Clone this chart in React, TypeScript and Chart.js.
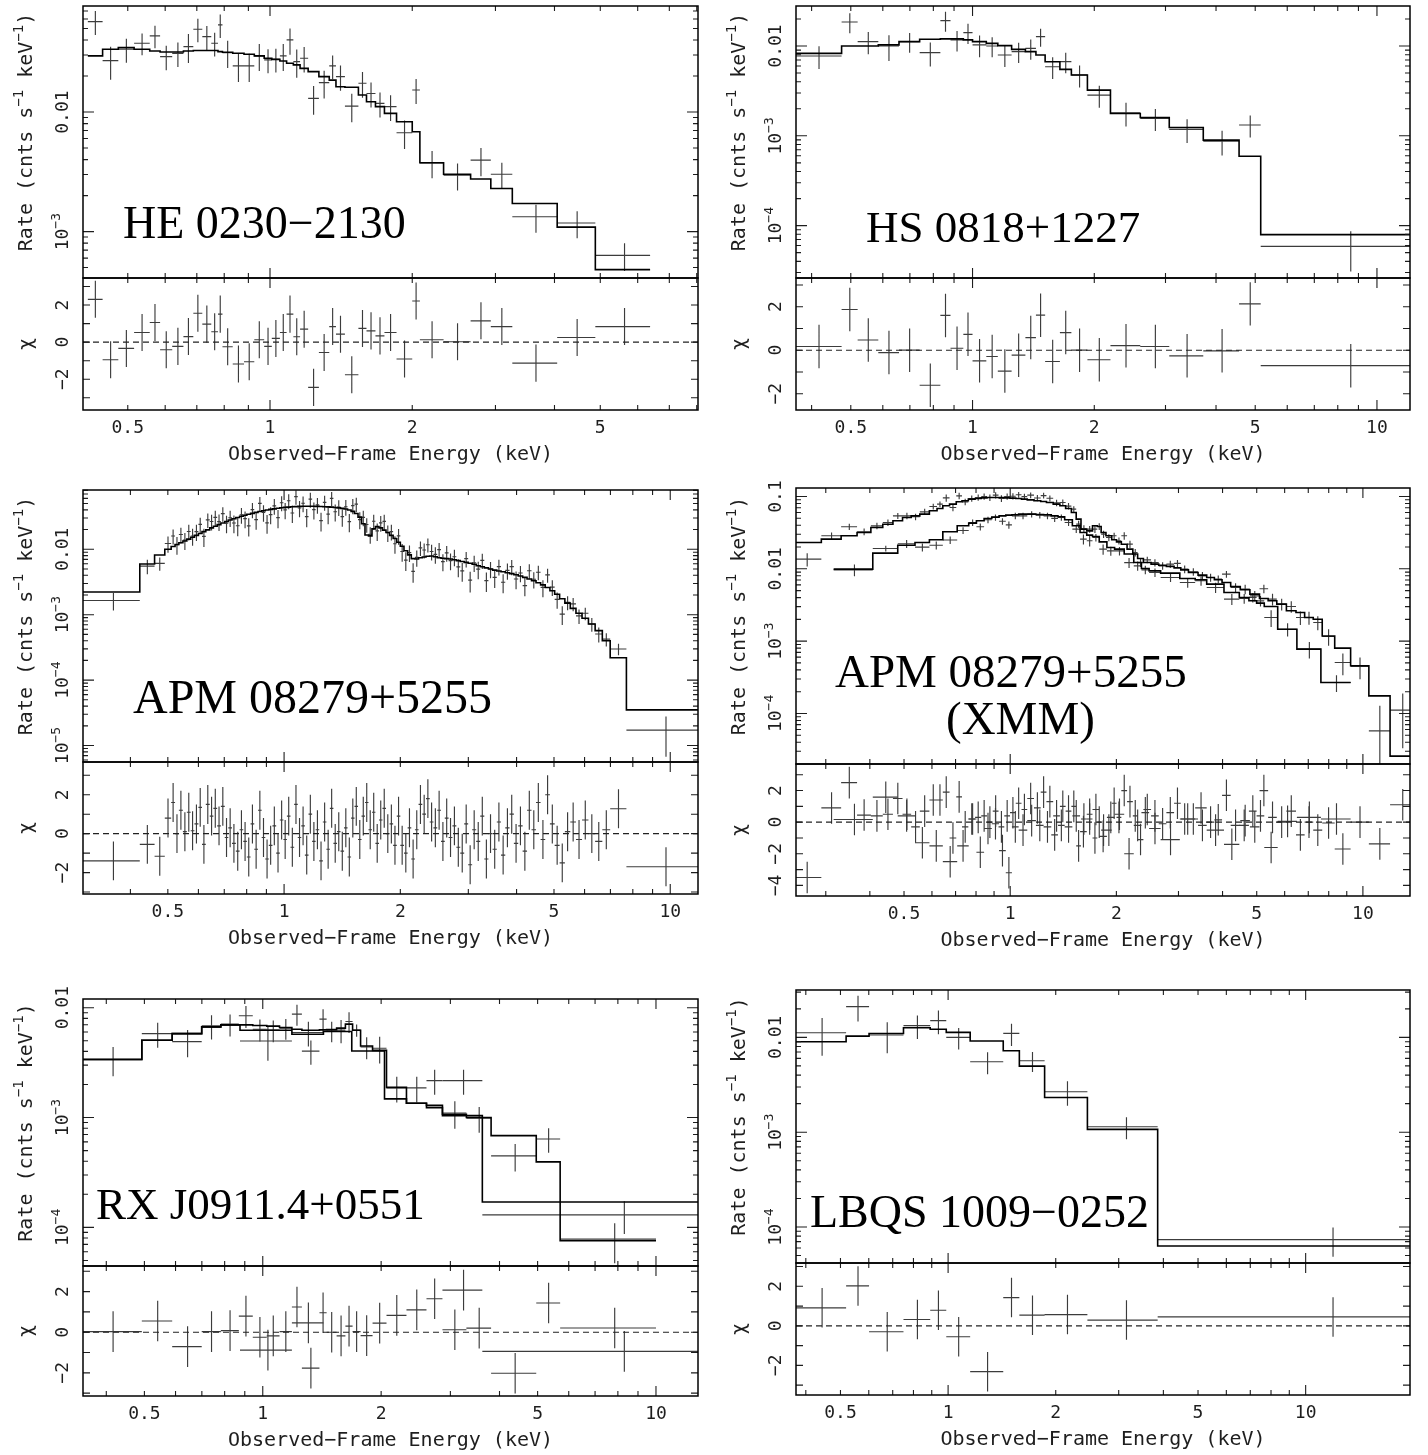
import React, { useEffect, useRef } from "react";
import { Chart, registerables } from "chart.js";

Chart.register(...registerables);

/* ================= DATA ================= */
/* rates in cnts s^-1 keV^-1 ; *Milli arrays are in units of 10^-3 */

/* ---- HE 0230-2130 (top left) ---- */
const heEdges = [0.4116, 0.4423, 0.4775, 0.5157, 0.5565, 0.5853, 0.6209, 0.6558, 0.6882, 0.719, 0.7511, 0.7761, 0.7932, 0.8339, 0.881, 0.9263, 0.972, 1.0088, 1.0493, 1.0842, 1.1205, 1.1578, 1.2043, 1.269, 1.3347, 1.3791, 1.4407, 1.5385, 1.6003, 1.6718, 1.7466, 1.8526, 2.0, 2.0758, 2.33, 2.658, 2.933, 3.257, 4.053, 4.881, 6.374];
const heRateMilli = [57.1, 26.9, 33.5, 37.6, 43.4, 29.1, 31.0, 35.3, 49.3, 42.8, 37.6, 53.6, 31.4, 24.3, 24.3, 29.5, 27.3, 27.6, 29.5, 40.1, 26.4, 28.2, 13.0, 17.6, 24.3, 19.8, 11.2, 17.4, 14.3, 11.8, 11.1, 6.71, 15.3, 3.76, 2.96, 3.96, 3.02, 1.33, 1.18, 0.633];
const heErrMilli = [13, 8.3, 7.6, 7.8, 9.2, 6.7, 7.2, 9.6, 11, 9.7, 8.5, 12, 8, 6.5, 6.5, 7.5, 6.2, 6.2, 7.5, 10, 7, 6.8, 3.5, 4.6, 5.4, 4.7, 3.0, 4.2, 3.4, 2.8, 2.7, 1.8, 3.6, 0.96, 0.75, 1.05, 0.75, 0.35, 0.3, 0.165];
const heModelMilli = [29.5, 33.5, 34.6, 33.5, 32.4, 31.8, 31.8, 32.4, 32.7, 32.7, 32.7, 32.0, 31.6, 31.0, 30.4, 29.5, 28.2, 27.6, 26.7, 25.6, 24.8, 23.2, 21.8, 19.8, 18.5, 16.3, 16.1, 13.9, 12.2, 11.1, 9.74, 8.3, 6.84, 3.76, 3.02, 2.75, 2.29, 1.72, 1.09, 0.481];
const heChi = [2.31, -0.95, -0.34, 0.52, 1.06, -0.41, -0.23, 0.3, 1.56, 0.97, 0.56, 1.51, -0.25, -1.18, -1.06, 0.13, -0.23, 0.2, 0.52, 1.51, 0.29, 0.7, -2.44, -0.56, 0.84, 0.43, -1.76, 0.74, 0.61, 0.34, 0.52, -0.91, 2.22, 0.13, 0.02, 1.15, 0.84, -1.13, 0.25, 0.84];

/* ---- HS 0818+1227 (top right) ---- */
const hsEdges = [0.36, 0.4745, 0.5199, 0.5848, 0.6579, 0.74, 0.8326, 0.8821, 0.949, 1.0, 1.0816, 1.1548, 1.2492, 1.3512, 1.4347, 1.5118, 1.6444, 1.7555, 1.9233, 2.193, 2.599, 3.065, 3.72, 4.561, 5.159, 12.07];
const hsRateMilli = [7.74, 18.5, 11.2, 10.0, 11.2, 8.43, 19.2, 11.7, 14.1, 10.3, 10.0, 7.94, 8.65, 9.42, 12.7, 5.88, 6.69, 4.75, 2.84, 1.8, 1.56, 1.18, 0.872, 1.32, 0.0588];
const hsErrMilli = [2.2, 4.6, 3.1, 3.2, 2.8, 2.5, 4.8, 3.0, 3.6, 2.8, 2.5, 2.1, 2.2, 2.4, 2.9, 1.6, 1.7, 1.3, 0.78, 0.53, 0.43, 0.35, 0.27, 0.36, 0.028];
const hsModelMilli = [8.28, 10.0, 10.0, 10.3, 11.2, 11.9, 12.0, 12.0, 11.7, 11.2, 10.7, 10.1, 9.18, 8.65, 7.94, 6.69, 5.49, 4.75, 3.23, 1.77, 1.6, 1.24, 0.895, 0.593, 0.0794];
const hsChi = [0.17, 1.87, 0.47, -0.11, 0.0, -1.61, 1.6, 0.09, 0.73, -0.49, -0.29, -0.96, -0.23, 0.58, 1.61, -0.52, 0.81, 0.0, -0.44, 0.21, 0.17, -0.26, -0.03, 2.13, -0.71];

/* ---- APM 08279+5255 Chandra (middle left) ---- */
const apmEdges = [0.3, 0.423, 0.462, 0.491, 0.51, 0.522, 0.534, 0.547, 0.56, 0.573, 0.586, 0.6, 0.613, 0.627, 0.642, 0.656, 0.671, 0.686, 0.702, 0.717, 0.733, 0.75, 0.767, 0.784, 0.801, 0.819, 0.837, 0.856, 0.875, 0.894, 0.913, 0.933, 0.954, 0.975, 0.996, 1.017, 1.039, 1.062, 1.085, 1.108, 1.132, 1.157, 1.182, 1.207, 1.233, 1.26, 1.287, 1.314, 1.342, 1.371, 1.4, 1.43, 1.46, 1.491, 1.522, 1.554, 1.587, 1.62, 1.654, 1.689, 1.724, 1.761, 1.798, 1.836, 1.876, 1.916, 1.958, 2.0, 2.044, 2.089, 2.135, 2.182, 2.23, 2.28, 2.331, 2.383, 2.437, 2.492, 2.549, 2.607, 2.667, 2.729, 2.793, 2.859, 2.927, 2.997, 3.069, 3.144, 3.221, 3.3, 3.382, 3.467, 3.555, 3.645, 3.739, 3.836, 3.936, 4.04, 4.147, 4.258, 4.373, 4.492, 4.616, 4.745, 4.88, 5.02, 5.17, 5.335, 5.51, 5.7, 5.91, 6.14, 6.39, 6.67, 6.99, 7.7, 11.8];
const apmRate = [0.00165, 0.00553, 0.00608, 0.01224, 0.01593, 0.0118, 0.01683, 0.01378, 0.0187, 0.01594, 0.01858, 0.02398, 0.01574, 0.02812, 0.02654, 0.03069, 0.02647, 0.03508, 0.02511, 0.03035, 0.0252, 0.02289, 0.03369, 0.02939, 0.02278, 0.04036, 0.0284, 0.05037, 0.03663, 0.02531, 0.03386, 0.04615, 0.03046, 0.05143, 0.03994, 0.05521, 0.03586, 0.06376, 0.04267, 0.05048, 0.03149, 0.05824, 0.04032, 0.04773, 0.02736, 0.05221, 0.03445, 0.06002, 0.03741, 0.0441, 0.03157, 0.04466, 0.02643, 0.04651, 0.049, 0.0284, 0.03067, 0.02389, 0.0169, 0.02681, 0.01909, 0.02536, 0.02673, 0.018, 0.01858, 0.01215, 0.01603, 0.00924, 0.00684, 0.00889, 0.00458, 0.0075, 0.01051, 0.00973, 0.01173, 0.00923, 0.00835, 0.00989, 0.00648, 0.00881, 0.0067, 0.00767, 0.00539, 0.00468, 0.00718, 0.00337, 0.00623, 0.00497, 0.00676, 0.00331, 0.005, 0.00372, 0.00544, 0.00313, 0.00475, 0.00543, 0.00351, 0.00434, 0.00278, 0.0047, 0.00348, 0.00446, 0.00261, 0.00406, 0.00264, 0.00171, 0.00102, 0.00154, 0.00146, 0.00096, 0.00105, 0.00072, 0.000506, 0.000422, 0.000299, 0.0000172];
const apmErrFrac = [0.3, 0.25, 0.23, 0.28, 0.26, 0.3, 0.27, 0.29, 0.27, 0.29, 0.28, 0.26, 0.31, 0.25, 0.27, 0.26, 0.28, 0.25, 0.3, 0.28, 0.3, 0.31, 0.27, 0.29, 0.31, 0.26, 0.3, 0.25, 0.28, 0.32, 0.29, 0.27, 0.31, 0.26, 0.28, 0.26, 0.3, 0.25, 0.28, 0.27, 0.31, 0.26, 0.29, 0.27, 0.32, 0.26, 0.3, 0.25, 0.29, 0.27, 0.3, 0.27, 0.31, 0.26, 0.25, 0.29, 0.27, 0.25, 0.28, 0.26, 0.3, 0.27, 0.26, 0.28, 0.27, 0.3, 0.27, 0.3, 0.32, 0.28, 0.33, 0.28, 0.25, 0.26, 0.24, 0.27, 0.28, 0.26, 0.29, 0.27, 0.29, 0.28, 0.31, 0.32, 0.27, 0.35, 0.28, 0.3, 0.26, 0.33, 0.28, 0.31, 0.27, 0.32, 0.28, 0.26, 0.3, 0.28, 0.31, 0.26, 0.28, 0.25, 0.29, 0.24, 0.27, 0.28, 0.32, 0.24, 0.23, 0.25, 0.22, 0.24, 0.26, 0.23, 0.2, 0.61];
const apmModel = [0.00222, 0.00594, 0.00818, 0.01, 0.011, 0.0118, 0.0126, 0.0134, 0.0143, 0.0153, 0.0163, 0.0174, 0.0186, 0.0198, 0.0212, 0.0225, 0.0238, 0.0252, 0.0266, 0.028, 0.0293, 0.0306, 0.0319, 0.0331, 0.0343, 0.0354, 0.0366, 0.0377, 0.0388, 0.0398, 0.0407, 0.0415, 0.0423, 0.043, 0.0436, 0.0441, 0.0446, 0.0449, 0.0452, 0.0454, 0.0455, 0.0455, 0.0454, 0.0452, 0.045, 0.0447, 0.0444, 0.044, 0.0435, 0.0429, 0.0422, 0.0412, 0.0398, 0.038, 0.0352, 0.031, 0.0245, 0.0165, 0.016, 0.0205, 0.0222, 0.0212, 0.0196, 0.018, 0.0163, 0.0146, 0.0128, 0.0111, 0.0095, 0.0082, 0.0072, 0.0071, 0.0074, 0.0076, 0.0078, 0.0079, 0.0077, 0.0074, 0.0073, 0.0072, 0.0071, 0.0069, 0.0067, 0.0065, 0.0063, 0.0061, 0.0059, 0.0056, 0.0054, 0.0052, 0.005, 0.0048, 0.00466, 0.00452, 0.00438, 0.00424, 0.00408, 0.0039, 0.00372, 0.00352, 0.0033, 0.00308, 0.00285, 0.0026, 0.00232, 0.00205, 0.00175, 0.0015, 0.00125, 0.00105, 0.00088, 0.00072, 0.00057, 0.0004, 0.00022, 0.0000351];
const apmChi = [-1.4, -0.55, -1.16, 0.8, 1.6, 0.0, 1.2, 0.1, 1.1, 0.15, 0.5, 1.35, -0.55, 1.5, 0.9, 1.3, 0.4, 1.4, -0.2, 0.3, -0.5, -0.9, 0.2, -0.4, -1.2, 0.5, -0.8, 1.2, -0.2, -1.3, -0.6, 0.4, -1.0, 0.7, -0.3, 0.9, -0.7, 1.5, -0.2, 0.4, -1.1, 1.0, -0.4, 0.2, -1.4, 0.6, -0.8, 1.3, -0.5, 0.1, -0.9, 0.3, -1.2, 0.8, 1.4, -0.3, 0.9, 1.6, 0.2, 1.1, -0.5, 0.7, 1.3, 0.0, 0.5, -0.6, 0.9, -0.6, -1.0, 0.3, -1.3, 0.2, 1.5, 1.0, 1.8, 0.6, 0.3, 1.2, -0.4, 0.8, -0.2, 0.4, -0.7, -1.0, 0.5, -1.6, 0.2, -0.4, 0.9, -1.3, 0.0, -0.8, 0.6, -1.1, 0.3, 1.0, -0.5, 0.4, -0.9, 1.2, 0.2, 1.6, -0.3, 2.0, 0.5, -0.6, -1.5, 0.1, 0.6, -0.3, 0.7, 0.0, -0.4, 0.2, 1.28, -1.7];

/* ---- APM 08279+5255 XMM (middle right): pn (upper) and MOS (lower) ---- */
const xmmPnE = [0.271, 0.3134, 0.3509, 0.3859, 0.4202, 0.4508, 0.4799, 0.5109, 0.5372, 0.5719, 0.6087, 0.6321, 0.6564, 0.6902, 0.7164, 0.7438, 0.7783, 0.8124, 0.8434, 0.8756, 0.9093, 0.9441, 0.9802, 1.0177, 1.0566, 1.097, 1.139, 1.1978, 1.2435, 1.2912, 1.3577, 1.4096, 1.463, 1.5194, 1.558, 1.6176, 1.6795, 1.7441, 1.7882, 1.8336, 1.904, 1.977, 2.0274, 2.1049, 2.1853, 2.269, 2.3267, 2.4464, 2.5717, 2.704, 2.843, 2.9889, 3.1032, 3.3037, 3.5176, 3.6983, 3.8886, 4.0882, 4.3523, 4.6341, 4.9341, 5.2534, 5.5234, 5.8812, 6.2618, 6.667, 7.0096, 7.459, 7.8826, 8.779, 9.703, 11.14, 12.8];
const xmmPnRate = [0.0136, 0.0286, 0.0381, 0.0325, 0.0393, 0.0437, 0.054, 0.054, 0.0524, 0.0614, 0.0727, 0.0783, 0.0958, 0.0705, 0.1021, 0.0844, 0.0938, 0.0969, 0.1, 0.0969, 0.1043, 0.0938, 0.1, 0.1007, 0.1056, 0.0996, 0.1042, 0.0954, 0.103, 0.0944, 0.0817, 0.0825, 0.0737, 0.0668, 0.0414, 0.0361, 0.0353, 0.0353, 0.0385, 0.0301, 0.0271, 0.0286, 0.0244, 0.0286, 0.0219, 0.0168, 0.0122, 0.0133, 0.0122, 0.011, 0.0116, 0.0119, 0.0099, 0.00909, 0.008, 0.00759, 0.0072, 0.00844, 0.00552, 0.00524, 0.00423, 0.0053, 0.00381, 0.00325, 0.00301, 0.00212, 0.00212, 0.00181, 0.00116, 0.000507, 0.000446, 0.0000575, 0.000111];
const xmmPnErr = [0.0028, 0.0032, 0.0038, 0.0035, 0.004, 0.0045, 0.005, 0.0055, 0.0055, 0.006, 0.0066, 0.007, 0.011, 0.0078, 0.0108, 0.009, 0.009, 0.0095, 0.01, 0.01, 0.0105, 0.01, 0.01, 0.0098, 0.0098, 0.0096, 0.0095, 0.0092, 0.0093, 0.0091, 0.0085, 0.0082, 0.0077, 0.0067, 0.0048, 0.004, 0.0038, 0.004, 0.004, 0.0034, 0.003, 0.0029, 0.0027, 0.0033, 0.0025, 0.002, 0.0016, 0.0014, 0.0014, 0.0013, 0.0013, 0.0013, 0.0012, 0.0011, 0.001, 0.00095, 0.0009, 0.0009, 0.0008, 0.0008, 0.0007, 0.0007, 0.0007, 0.0006, 0.00055, 0.00045, 0.00043, 0.0004, 0.0003, 0.00017, 0.00015, 0.00007, 0.000078];
const xmmPnModel = [0.0231, 0.0257, 0.0286, 0.0318, 0.0373, 0.0414, 0.0461, 0.0513, 0.054, 0.057, 0.0634, 0.0683, 0.0743, 0.0783, 0.0844, 0.0871, 0.0919, 0.0938, 0.0958, 0.0969, 0.0969, 0.0969, 0.0958, 0.0948, 0.0938, 0.0919, 0.0899, 0.0871, 0.0853, 0.0826, 0.0783, 0.0743, 0.0683, 0.0601, 0.0486, 0.0353, 0.0335, 0.0393, 0.0385, 0.0318, 0.0286, 0.0252, 0.0236, 0.0219, 0.0187, 0.016, 0.0139, 0.0122, 0.0116, 0.0112, 0.0108, 0.0103, 0.00968, 0.0089, 0.00818, 0.00759, 0.00705, 0.00647, 0.0057, 0.00513, 0.00447, 0.00389, 0.00361, 0.00325, 0.00263, 0.00249, 0.00212, 0.00201, 0.00118, 0.0008, 0.000456, 0.000175, 0.0000257];
const xmmPnChi = [-3.5, 0.9, 2.5, 0.45, 0.4, 0.5, 1.5, 0.5, -0.3, 0.7, 1.4, 1.4, 1.9, -1.0, 1.6, -0.3, 0.2, 0.3, 0.4, 0.0, 0.7, -0.3, 0.4, 0.6, 1.2, 0.8, 1.5, 0.9, 1.9, 1.3, 0.4, 1.0, 0.7, 1.0, -1.5, 0.2, 0.5, -1.0, 0.0, -0.5, -0.5, 1.2, 0.3, 2.0, 1.3, 0.4, -1.1, 0.8, 0.4, -0.1, 0.6, 1.2, 0.2, 0.2, -0.2, 0.0, 0.15, 1.7, -0.2, 0.1, -0.3, 2.0, 0.3, 0.0, 0.7, -0.8, 0.0, -0.5, -0.05, -1.7, 0.0, -1.37, 1.1];
const xmmMosE = [0.3688, 0.4508, 0.5109, 0.5648, 0.6166, 0.673, 0.7438, 0.7822, 0.8225, 0.8648, 0.9093, 0.9511, 0.9925, 1.0306, 1.0835, 1.1535, 1.2128, 1.2752, 1.3407, 1.3919, 1.463, 1.539, 1.6176, 1.6795, 1.7441, 1.8336, 1.928, 2.0274, 2.1853, 2.297, 2.4155, 2.5395, 2.8071, 3.263, 3.4298, 3.7931, 4.2978, 4.6341, 4.872, 5.1235, 5.384, 6.1056, 6.918, 8.353];
const xmmMosRate = [0.00968, 0.0191, 0.0222, 0.0199, 0.0212, 0.025, 0.0339, 0.0437, 0.0381, 0.0476, 0.0513, 0.0454, 0.0405, 0.054, 0.054, 0.057, 0.0552, 0.054, 0.0497, 0.0513, 0.0437, 0.0353, 0.0257, 0.0244, 0.0271, 0.0187, 0.0177, 0.0177, 0.0122, 0.011, 0.00968, 0.0089, 0.00759, 0.00647, 0.00683, 0.00552, 0.00381, 0.00389, 0.00402, 0.00361, 0.00212, 0.00146, 0.000775, 0.000268];
const xmmMosErr = [0.0018, 0.0018, 0.0028, 0.0025, 0.0027, 0.003, 0.0036, 0.0045, 0.0042, 0.005, 0.0052, 0.0048, 0.0046, 0.0055, 0.0057, 0.0057, 0.0056, 0.0055, 0.0052, 0.0052, 0.0047, 0.004, 0.004, 0.004, 0.0032, 0.003, 0.0025, 0.0024, 0.0019, 0.0016, 0.0013, 0.0012, 0.001, 0.001, 0.001, 0.0009, 0.00066, 0.0006, 0.0006, 0.0006, 0.00055, 0.0003, 0.0002, 0.00007];
const xmmMosModel = [0.0099, 0.01647, 0.0212, 0.0231, 0.0252, 0.0325, 0.0393, 0.0428, 0.0461, 0.0497, 0.0518, 0.054, 0.0552, 0.0558, 0.057, 0.057, 0.0564, 0.0558, 0.054, 0.0524, 0.0476, 0.0393, 0.0318, 0.0292, 0.028, 0.0236, 0.0197, 0.0187, 0.016, 0.0122, 0.0101, 0.00937, 0.00871, 0.00735, 0.00705, 0.00614, 0.00471, 0.00402, 0.00361, 0.00335, 0.00301, 0.00146, 0.000775, 0.000268];
const xmmMosChi = [0.17, 1.58, 0.4, -1.3, -1.5, -2.5, -1.5, 0.2, -1.9, -0.4, -0.1, -1.8, -3.2, -0.3, -0.5, 0.1, -0.2, -0.3, -0.8, -0.2, -0.3, 0.4, -0.6, 0.2, 0.8, -0.9, 0.3, 0.5, -2.0, -0.2, 0.6, -0.4, -1.1, 0.2, 0.9, -0.5, -1.4, -0.2, 0.7, 0.4, -1.6, 0.05, 0.3, 0.2];

/* ---- RX J0911.4+0551 (bottom left): two data groups ---- */
const rxAEdges = [0.34, 0.4925, 0.5884, 0.6994, 0.7822, 0.8692, 0.9432, 1.0237, 1.1031, 1.186, 1.2575, 1.3936, 1.4535, 1.541, 1.6225, 1.6921, 1.7732, 1.902, 2.0639, 2.3198, 2.6083, 2.864, 3.295, 3.8078, 4.9603, 5.7056, 10.0];
const rxARateMilli = [3.38, 5.81, 4.91, 6.84, 7.08, 8.45, 6.37, 6.24, 6.51, 8.75, 4.03, 7.87, 6.15, 6.24, 7.49, 6.24, 4.39, 4.27, 1.86, 1.86, 2.17, 1.1, 0.986, 0.448, 0.637, 0.0782];
const rxAErrMilli = [1.0, 1.5, 1.37, 1.7, 1.6, 1.9, 1.45, 1.4, 1.4, 1.9, 1.0, 1.8, 1.3, 1.5, 1.6, 0.8, 1.0, 1.17, 0.49, 0.49, 0.56, 0.31, 0.26, 0.125, 0.16, 0.031];
const rxAModelMilli = [3.38, 5.05, 5.81, 6.69, 6.98, 6.98, 6.88, 6.79, 6.6, 6.37, 6.24, 6.28, 6.32, 6.51, 7.08, 6.24, 4.48, 4.09, 1.88, 1.35, 1.29, 1.07, 1.0, 0.684, 0.395, 0.0755];
const rxAChi = [0.03, 0.55, -0.71, 0.03, 0.08, 0.79, -0.25, -0.18, 0.03, 1.24, -1.77, 0.96, 0.0, -0.18, 0.3, 0.03, -0.17, 0.45, 0.83, 1.1, 1.65, 0.12, 0.2, -2.02, 1.44, 0.21];
const rxBLo = [0.8752, 1.186, 2.864, 3.6175];
const rxBHi = [1.186, 1.4265, 3.6175, 13.0];
const rxBRateMilli = [4.98, 5.94, 2.17, 0.13];
const rxBErrMilli = [1.7, 1.5, 0.56, 0.043];
const rxBChi = [-0.88, 0.46, 2.07, -0.94];
const rxBModelEdges = [0.34, 0.4925, 0.5884, 0.6994, 0.7822, 0.8752, 1.186, 1.4265, 1.684, 2.0399, 2.3198, 2.6083, 2.864, 3.6175, 13.0];
const rxBModelMilli = [3.38, 5.05, 5.81, 6.69, 6.98, 6.24, 5.73, 6.07, 4.03, 1.48, 1.35, 1.23, 1.04, 0.17];

/* ---- LBQS 1009-0252 (bottom right) ---- */
const lbEdges = [0.37, 0.5185, 0.6011, 0.7503, 0.8911, 0.9882, 1.1527, 1.4263, 1.5822, 1.8617, 2.4524, 3.8556, 20.0];
const lbRateMilli = [11.2, 21.1, 10.6, 13.3, 15.0, 10.0, 5.53, 11.0, 5.67, 2.67, 1.14, 0.0735];
const lbErrMilli = [4.8, 6.4, 3.8, 3.7, 4.2, 2.55, 1.45, 2.9, 1.36, 0.77, 0.3, 0.025];
const lbModelMilli = [9.0, 10.3, 11.0, 12.65, 12.2, 11.3, 9.15, 7.23, 4.98, 2.32, 1.07, 0.063];
const lbChi = [0.91, 2.02, -0.3, 0.32, 0.79, -0.55, -2.32, 1.43, 0.54, 0.57, 0.29, 0.45];

/* ---- axis ticks / labels ---- */
const xMajorTicks = [0.1, 1, 10, 100];
const xMinorTicks = [0.2, 0.3, 0.4, 0.5, 0.6, 0.7, 0.8, 0.9, 2, 3, 4, 5, 6, 7, 8, 9, 20, 30];
const xTickLabels = [0.5, 1, 2, 5, 10];
const yDecades = [1e-6, 1e-5, 1e-4, 1e-3, 1e-2, 1e-1, 1];
const yMinorMultiples = [2, 3, 4, 5, 6, 7, 8, 9];
const chiTicks = [-5, -4, -3, -2, -1, 0, 1, 2, 3, 4, 5];
const chiTickLabels = [-4, -2, 0, 2];
const X_TITLE = "Observed\u2212Frame Energy (keV)";
const Y_TITLE = [{ t: "Rate (cnts s" }, { t: "\u22121", sup: true }, { t: " keV" }, { t: "\u22121", sup: true }, { t: ")" }];

/* ================= HELPERS ================= */
const milli = (a: number[]) => a.map((v) => v * 1e-3);
const fromEdges = (e: number[]) => ({ lo: e.slice(0, -1), hi: e.slice(1) });
const edgesFromCenters = (c: number[], first: number, last: number) => [first, ...c.slice(1).map((v, i) => Math.sqrt(v * c[i])), last];

type Pt = { x: number; y: number | null };
type DataSet = { lo: number[]; hi: number[]; rate: number[]; err: number[]; chi: number[] };
type Model = { edges: number[]; values: number[] };
type Name = { text: string; x: number; y: number; size: number };
type PanelDef = {
  box: { l: number; r: number; t: number; s: number; b: number };
  x: [number, number];
  y: [number, number];
  chi: [number, number];
  data: DataSet[];
  models: Model[];
  names: Name[];
};

function stepPoints(edges: number[], values: number[]): Pt[] {
  const pts: Pt[] = values.map((v, i) => ({ x: edges[i], y: v }));
  pts.push({ x: edges[values.length], y: values[values.length - 1] });
  return pts;
}

function crossPoints(lo: number[], hi: number[], val: number[], err: number[], floor: number): Pt[] {
  const pts: Pt[] = [];
  lo.forEach((l, i) => {
    const h = hi[i];
    const c = (l + h) / 2;
    const v = val[i];
    pts.push({ x: l, y: v }, { x: h, y: v }, { x: h, y: null });
    pts.push({ x: c, y: Math.max(v - err[i], floor) }, { x: c, y: v + err[i] }, { x: c, y: null });
  });
  return pts;
}

/* ================= PANELS ================= */
const pnEdges = edgesFromCenters(xmmPnE, 0.24, 14);
const mosEdges = edgesFromCenters(xmmMosE, 0.3158, 9.231);

const panels: PanelDef[] = [
  {
    box: { l: 83, r: 698, t: 6, s: 278, b: 410 },
    x: [0.402, 8.05], y: [4.09e-4, 0.0771], chi: [-3.66, 3.46],
    data: [{ ...fromEdges(heEdges), rate: milli(heRateMilli), err: milli(heErrMilli), chi: heChi }],
    models: [{ edges: heEdges, values: milli(heModelMilli) }],
    names: [{ text: "HE 0230\u22122130", x: 123, y: 238, size: 46 }],
  },
  {
    box: { l: 796, r: 1410, t: 6, s: 278, b: 410 },
    x: [0.366, 12.07], y: [2.61e-5, 0.0279], chi: [-2.75, 3.32],
    data: [{ ...fromEdges(hsEdges), rate: milli(hsRateMilli), err: milli(hsErrMilli), chi: hsChi }],
    models: [{ edges: hsEdges, values: milli(hsModelMilli) }],
    names: [{ text: "HS 0818+1227", x: 866, y: 242, size: 45 }],
  },
  {
    box: { l: 83, r: 698, t: 490, s: 762, b: 894 },
    x: [0.3015, 11.8], y: [5.6e-6, 0.0805], chi: [-3.1, 3.68],
    data: [{ ...fromEdges(apmEdges), rate: apmRate, err: apmRate.map((r, i) => r * apmErrFrac[i]), chi: apmChi }],
    models: [{ edges: apmEdges, values: apmModel }],
    names: [{ text: "APM 08279+5255", x: 133, y: 713, size: 48 }],
  },
  {
    box: { l: 796, r: 1410, t: 488, s: 764, b: 896 },
    x: [0.247, 13.6], y: [2.0e-5, 0.131], chi: [-4.67, 3.68],
    data: [
      { ...fromEdges(pnEdges), rate: xmmPnRate, err: xmmPnErr, chi: xmmPnChi },
      { ...fromEdges(mosEdges), rate: xmmMosRate, err: xmmMosErr, chi: xmmMosChi },
    ],
    models: [{ edges: pnEdges, values: xmmPnModel }, { edges: mosEdges, values: xmmMosModel }],
    names: [
      { text: "APM 08279+5255", x: 835, y: 687, size: 47 },
      { text: "(XMM)", x: 946, y: 734, size: 47 },
    ],
  },
  {
    box: { l: 83, r: 698, t: 999, s: 1266, b: 1396 },
    x: [0.349, 12.79], y: [4.45e-5, 0.012], chi: [-3.14, 3.26],
    data: [
      { ...fromEdges(rxAEdges), rate: milli(rxARateMilli), err: milli(rxAErrMilli), chi: rxAChi },
      { lo: rxBLo, hi: rxBHi, rate: milli(rxBRateMilli), err: milli(rxBErrMilli), chi: rxBChi },
    ],
    models: [{ edges: rxAEdges, values: milli(rxAModelMilli) }, { edges: rxBModelEdges, values: milli(rxBModelMilli) }],
    names: [{ text: "RX J0911.4+0551", x: 96, y: 1219, size: 45 }],
  },
  {
    box: { l: 796, r: 1410, t: 990, s: 1263, b: 1395 },
    x: [0.3755, 19.58], y: [4.17e-5, 0.0316], chi: [-3.5, 3.18],
    data: [{ ...fromEdges(lbEdges), rate: milli(lbRateMilli), err: milli(lbErrMilli), chi: lbChi }],
    models: [{ edges: lbEdges, values: milli(lbModelMilli) }],
    names: [{ text: "LBQS 1009\u22120252", x: 810, y: 1227, size: 46 }],
  },
];

/* ================= DRAWING ================= */
const AX_FONT = '"DejaVu Sans Mono", "Liberation Mono", monospace';
const NAME_FONT = '"Liberation Serif", "DejaVu Serif", serif';
const INK = "#1e1e1e";
const DATA_INK = "#3c3c3c";
const PAD_L = 75;
const PAD_R = 14;

type Part = { t: string; sup?: boolean };

function drawParts(ctx: CanvasRenderingContext2D, parts: Part[], cx: number, cy: number, size: number, rotate: boolean) {
  const supSize = Math.round(size * 0.72);
  const widths = parts.map((p) => {
    ctx.font = `${p.sup ? supSize : size}px ${AX_FONT}`;
    return ctx.measureText(p.t).width;
  });
  const total = widths.reduce((a, b) => a + b, 0);
  ctx.save();
  ctx.translate(cx, cy);
  if (rotate) ctx.rotate(-Math.PI / 2);
  ctx.textAlign = "left";
  ctx.textBaseline = "alphabetic";
  let x = -total / 2;
  const base = size * 0.36;
  parts.forEach((p, i) => {
    ctx.font = `${p.sup ? supSize : size}px ${AX_FONT}`;
    ctx.fillText(p.t, x, p.sup ? base - size * 0.48 : base);
    x += widths[i];
  });
  ctx.restore();
}

function decadeLabel(v: number): Part[] {
  if (v >= 0.01) return [{ t: v >= 0.1 ? "0.1" : "0.01" }];
  const e = Math.round(Math.log10(v));
  return [{ t: "10" }, { t: "\u2212" + Math.abs(e), sup: true }];
}

type Decor = {
  kind: "spec" | "res";
  p: PanelDef;
  origin: { x: number; y: number };
};

function decorPlugin(d: Decor) {
  return {
    id: "decor",
    afterDraw(chart: any) {
      const ctx: CanvasRenderingContext2D = chart.ctx;
      const a = chart.chartArea;
      const xs = chart.scales.x;
      const ys = chart.scales.y;
      const [x0, x1] = d.p.x;
      const [y0, y1] = d.kind === "spec" ? d.p.y : d.p.chi;
      const inX = (v: number) => v > x0 * 1.0001 && v < x1 * 0.9999;
      const inY = (v: number) => v > y0 + Math.abs(y0) * 1e-4 && v < y1 - Math.abs(y1) * 1e-4;
      ctx.save();
      ctx.strokeStyle = INK;
      ctx.lineWidth = 1.1;
      ctx.beginPath();
      const xt: [number, number][] = [
        ...xMajorTicks.map((v) => [v, 10] as [number, number]),
        ...xMinorTicks.map((v) => [v, 5] as [number, number]),
      ];
      xt.forEach(([v, len]) => {
        if (!inX(v)) return;
        const px = xs.getPixelForValue(v);
        ctx.moveTo(px, a.bottom);
        ctx.lineTo(px, a.bottom - len);
        ctx.moveTo(px, a.top);
        ctx.lineTo(px, a.top + len);
      });
      const yt: [number, number][] = [];
      if (d.kind === "spec") {
        yDecades.forEach((dec) => {
          yt.push([dec, 11]);
          yMinorMultiples.forEach((m) => yt.push([dec * m, 5]));
        });
      } else {
        chiTicks.forEach((v) => yt.push([v, 7]));
      }
      yt.forEach(([v, len]) => {
        if (!inY(v)) return;
        const py = ys.getPixelForValue(v);
        ctx.moveTo(a.left, py);
        ctx.lineTo(a.left + len, py);
        ctx.moveTo(a.right, py);
        ctx.lineTo(a.right - len, py);
      });
      ctx.stroke();
      ctx.lineWidth = 1.5;
      ctx.strokeStyle = "#000";
      ctx.strokeRect(a.left, a.top, a.right - a.left, a.bottom - a.top);

      ctx.fillStyle = INK;
      const labX = a.left - 21;
      const titleX = a.left - 58;
      if (d.kind === "spec") {
        yDecades.forEach((dec) => {
          if (!inY(dec)) return;
          drawParts(ctx, decadeLabel(dec), labX, ys.getPixelForValue(dec), 18, true);
        });
        drawParts(ctx, Y_TITLE, titleX, (a.top + a.bottom) / 2 - 10, 20, true);
        d.p.names.forEach((n) => {
          ctx.font = `${n.size}px ${NAME_FONT}`;
          ctx.fillStyle = "#000";
          ctx.textAlign = "left";
          ctx.textBaseline = "alphabetic";
          ctx.fillText(n.text, n.x - d.origin.x, n.y - d.origin.y);
        });
      } else {
        chiTickLabels.forEach((v) => {
          if (!inY(v)) return;
          drawParts(ctx, [{ t: v < 0 ? "\u2212" + Math.abs(v) : String(v) }], labX, ys.getPixelForValue(v), 18, true);
        });
        drawParts(ctx, [{ t: "\u03c7" }], titleX, (a.top + a.bottom) / 2, 20, true);
        xTickLabels.forEach((v) => {
          if (!inX(v)) return;
          drawParts(ctx, [{ t: String(v) }], xs.getPixelForValue(v), a.bottom + 17, 18, false);
        });
        drawParts(ctx, [{ t: X_TITLE }], (a.left + a.right) / 2, a.bottom + 43, 20, false);
      }
      ctx.restore();
    },
  };
}

function buildConfig(p: PanelDef, kind: "spec" | "res", origin: { x: number; y: number }, pad: any) {
  const datasets: any[] = [];
  const common = { pointRadius: 0, pointHoverRadius: 0, fill: false, spanGaps: false, tension: 0 };
  if (kind === "spec") {
    const floor = p.y[0] * 0.1;
    p.models.forEach((m) =>
      datasets.push({ ...common, data: stepPoints(m.edges, m.values), borderColor: "#000", borderWidth: 1.6, stepped: true })
    );
    p.data.forEach((d) =>
      datasets.push({ ...common, data: crossPoints(d.lo, d.hi, d.rate, d.err, floor), borderColor: DATA_INK, borderWidth: 1.15 })
    );
  } else {
    datasets.push({
      ...common,
      data: [{ x: p.x[0], y: 0 }, { x: p.x[1], y: 0 }],
      borderColor: "#222",
      borderWidth: 1.1,
      borderDash: [6, 4],
    });
    p.data.forEach((d) =>
      datasets.push({ ...common, data: crossPoints(d.lo, d.hi, d.chi, d.chi.map(() => 1), -100), borderColor: DATA_INK, borderWidth: 1.15 })
    );
  }
  return {
    type: "line" as const,
    data: { datasets },
    options: {
      animation: false as const,
      responsive: false,
      maintainAspectRatio: false,
      events: [],
      layout: { padding: pad },
      plugins: { legend: { display: false }, tooltip: { enabled: false }, title: { display: false } },
      scales: {
        x: { type: "logarithmic" as const, min: p.x[0], max: p.x[1], display: false, bounds: "data" as const },
        y:
          kind === "spec"
            ? { type: "logarithmic" as const, min: p.y[0], max: p.y[1], display: false, bounds: "data" as const }
            : { type: "linear" as const, min: p.chi[0], max: p.chi[1], display: false, bounds: "data" as const },
      },
    },
    plugins: [decorPlugin({ kind, p, origin })],
  };
}

function PanelCanvas({ p, kind }: { p: PanelDef; kind: "spec" | "res" }) {
  const ref = useRef<HTMLCanvasElement | null>(null);
  const { l, r, t, s, b } = p.box;
  const padTop = kind === "spec" ? Math.min(t, 30) : 3;
  const left = l - PAD_L;
  const width = r - l + PAD_L + PAD_R;
  const top = kind === "spec" ? t - padTop : s - padTop;
  const height = kind === "spec" ? s - t + padTop + 3 : b - s + padTop + 62;
  const pad = kind === "spec" ? { left: PAD_L, right: PAD_R, top: padTop, bottom: 3 } : { left: PAD_L, right: PAD_R, top: padTop, bottom: 62 };
  useEffect(() => {
    if (!ref.current) return;
    const chart = new Chart(ref.current, buildConfig(p, kind, { x: left, y: top }, pad) as any);
    return () => chart.destroy();
  }, []);
  return (
    <canvas
      ref={ref}
      width={width}
      height={height}
      style={{ position: "absolute", left, top, width, height }}
    />
  );
}

export default function App() {
  return (
    <div style={{ position: "absolute", left: 0, top: 0, width: 1428, height: 1455, overflow: "hidden", background: "#fff" }}>
      {panels.map((p, i) => (
        <React.Fragment key={i}>
          <PanelCanvas p={p} kind="spec" />
          <PanelCanvas p={p} kind="res" />
        </React.Fragment>
      ))}
    </div>
  );
}
